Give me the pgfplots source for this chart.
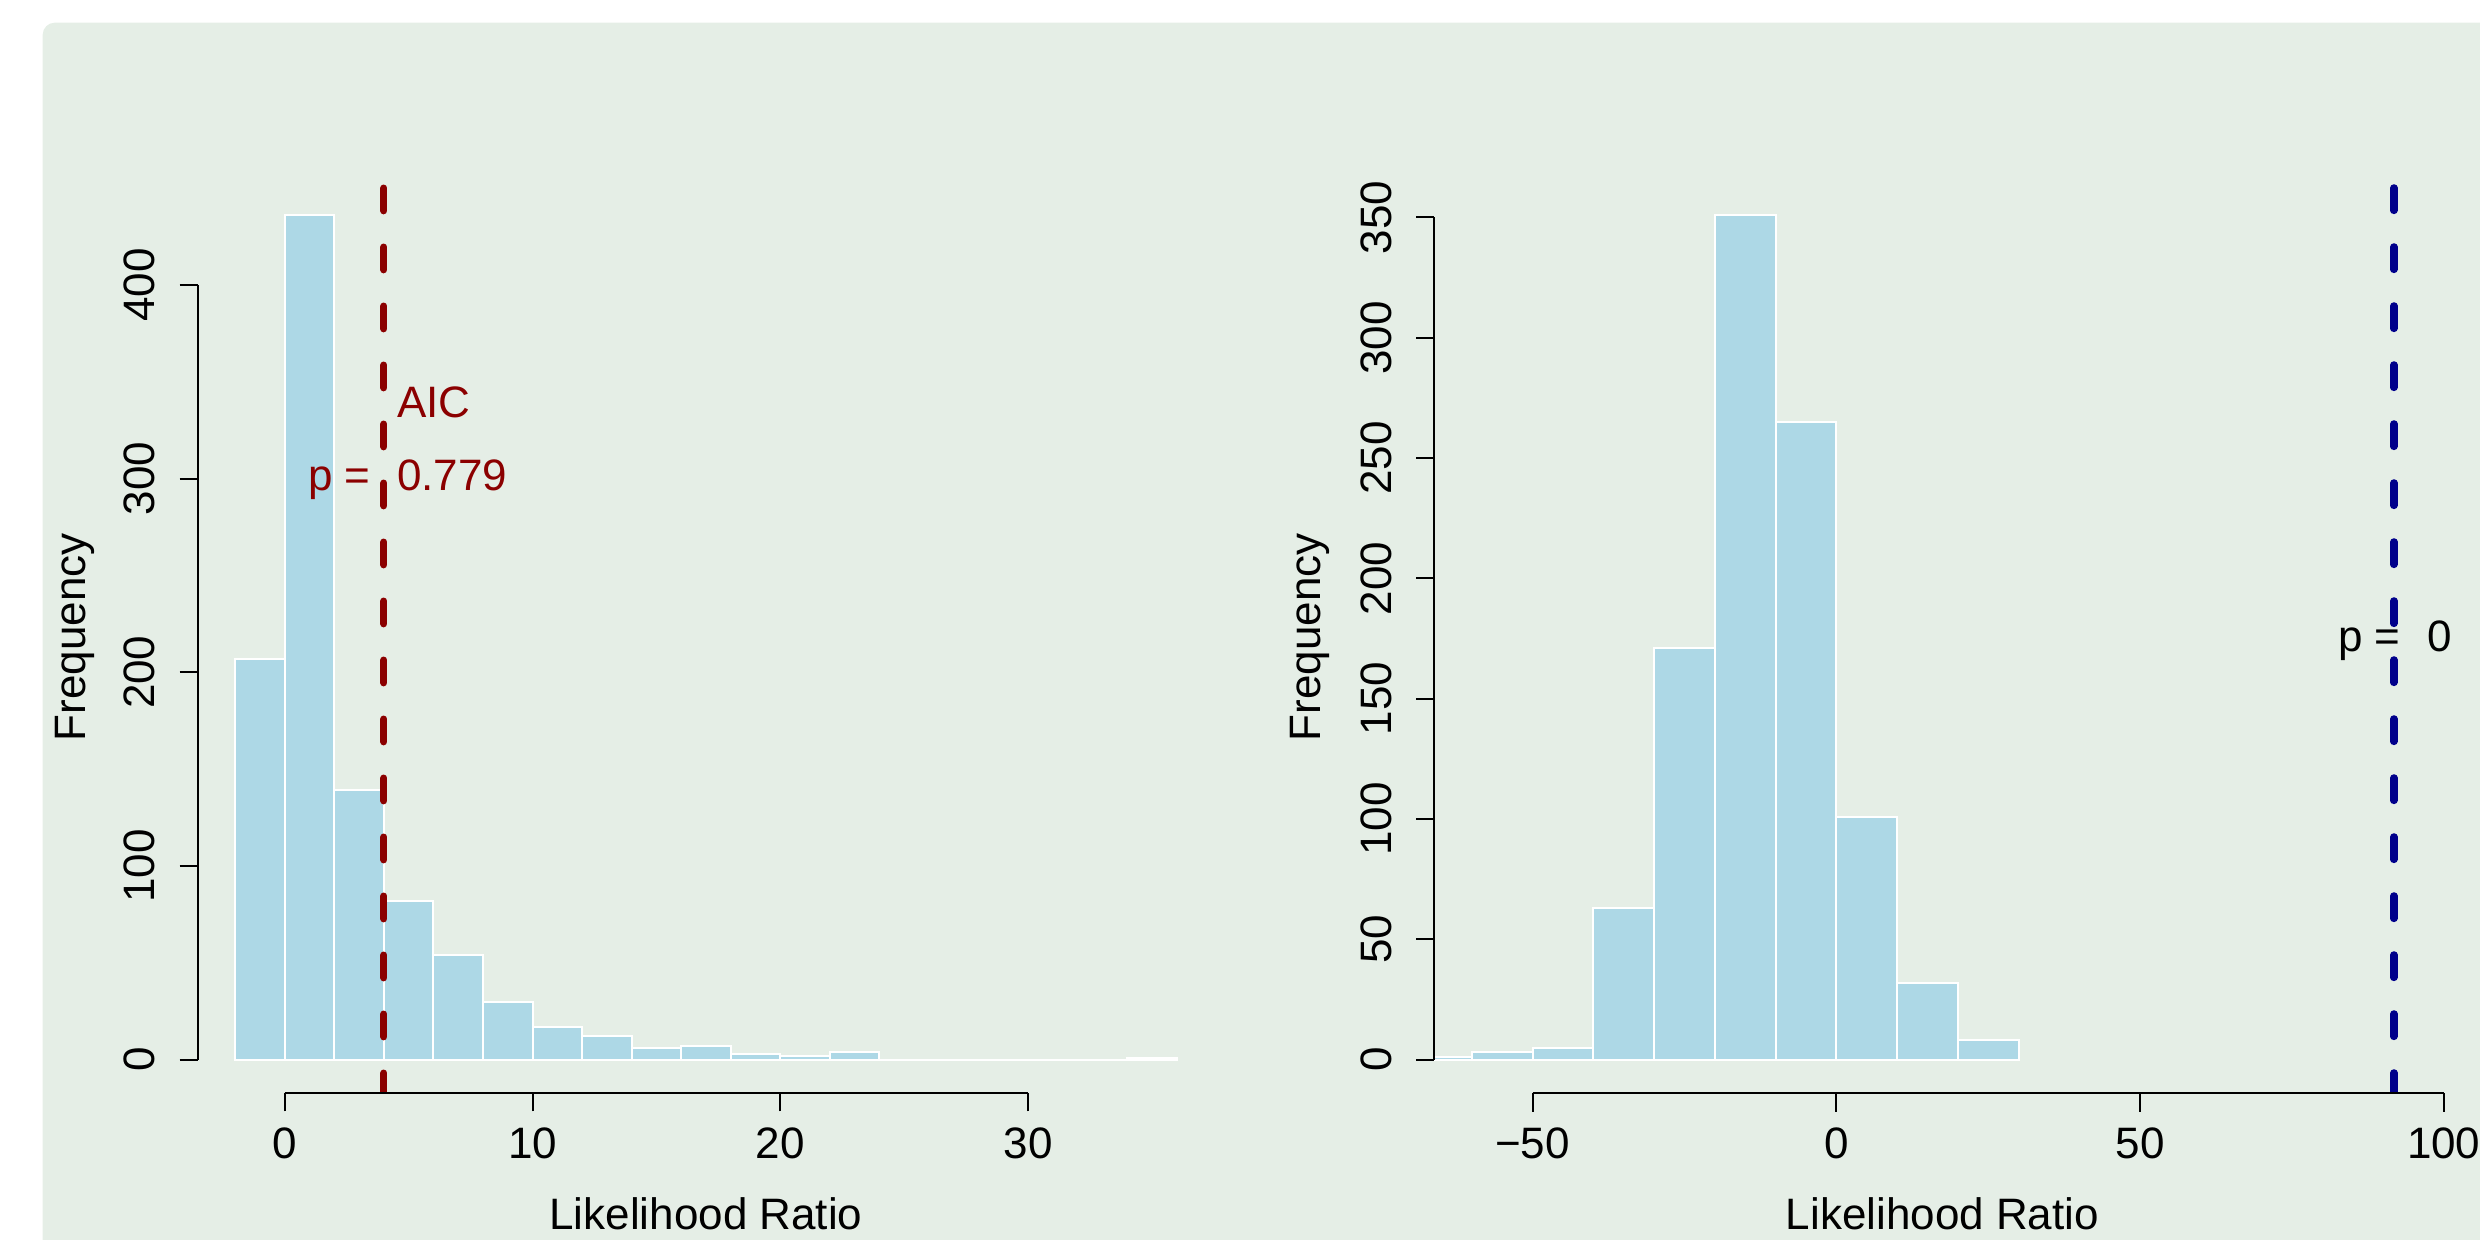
\documentclass[border=0pt]{standalone}
\usepackage{pgfplots}
\pgfplotsset{compat=1.18}
\usepackage{fontspec}
\setmainfont{Liberation Sans}
\definecolor{bg}{HTML}{E5EEE6}
\definecolor{barblue}{HTML}{ADD8E6}
\definecolor{dred}{HTML}{8B0000}
\definecolor{dblue}{HTML}{00008B}
\pgfplotsset{
  rhist/.style={
    scale only axis, width=254.225pt, height=228.05pt,
    axis x line*=bottom, axis y line*=left,
    axis line style={draw=none},
    tick align=outside, major tick length=4.5pt,
    every tick/.style={black, line width=0.5pt},
    minor tick num=0,
    clip mode=individual,
    xticklabel style={anchor=north, inner sep=0pt, font=\fontsize{11pt}{13pt}\selectfont},
    yticklabel style={rotate=90, anchor=south, inner sep=0pt, font=\fontsize{11pt}{13pt}\selectfont},
    xticklabel shift=3.875pt,
    yticklabel shift=5.85pt,
    xlabel={Likelihood Ratio}, ylabel={Frequency},
    xlabel style={at={(axis description cs:0.5,0)}, anchor=base, inner sep=0pt, yshift=-34pt, font=\fontsize{11pt}{13pt}\selectfont},
    ylabel style={anchor=base, inner sep=0pt, font=\fontsize{11pt}{13pt}\selectfont},
    /pgf/number format/assume math mode=true,
  }
}
\begin{document}
\begin{tikzpicture}[font=\fontsize{11pt}{13pt}\selectfont]
\path[use as bounding box] (0,0) rectangle (620pt,310pt);
\begin{scope}
\clip (0,0) rectangle (620pt,310pt);
\fill[bg, rounded corners=3pt] (10.675pt,-20pt) rectangle (640pt,304.325pt);
\end{scope}

% Left panel
\begin{axis}[rhist, at={(49.375pt,36.625pt)}, anchor=south west,
  xmin=-3.52, xmax=37.52, ymin=-17.44, ymax=453.44,
  xtick={0,10,20,30}, xticklabels={0,10,20,30},
  ytick={0,100,200,300,400}, yticklabels={0,100,200,300,400},
  ylabel style={at={([xshift=-28.05pt]axis description cs:0,0.5)}}]
\addplot[ybar interval, fill=barblue, draw=white, line width=0.5pt] coordinates {
(-2,207) (0,436) (2,139) (4,82) (6,54) (8,30) (10,17) (12,12) (14,6) (16,7)
(18,3) (20,2) (22,4) (24,0) (26,0) (28,0) (30,0) (32,0) (34,1) (36,1)};
\addplot[dred, line width=1.825pt, line cap=round, dash pattern=on 5.65pt off 9.1pt] coordinates {(4,449.9) (4,-17.44)};
\draw[line width=0.5pt] (axis cs:0,-17.44) -- (axis cs:30,-17.44);
\draw[line width=0.5pt] (axis cs:-3.52,0) -- (axis cs:-3.52,400);
\node[dred, anchor=base west, inner sep=0pt] at (axis cs:4.5,331.4) {AIC};
\node[dred, anchor=base west, inner sep=0pt] at (axis cs:4.5,293.6) {0.779};
\node[dred, anchor=base east, inner sep=0pt] at (axis cs:3.50,293.6) {p =};
\end{axis}

% Right panel
\begin{axis}[rhist, at={(358.5pt,36.625pt)}, anchor=south west,
  xmin=-66.23, xmax=101.19, ymin=-14.04, ymax=365.04,
  xtick={-50,0,50,100}, xticklabels={−50,0,50,100},
  ytick={0,50,100,150,200,250,300,350}, yticklabels={0,50,100,150,200,250,300,350},
  ylabel style={at={([xshift=-28.3pt]axis description cs:0,0.5)}}]
\addplot[ybar interval, fill=barblue, draw=white, line width=0.5pt] coordinates {
(-70,1) (-60,3) (-50,5) (-40,63) (-30,171) (-20,351) (-10,265) (0,101) (10,32) (20,8) (30,8)};
\addplot[dblue, line width=1.825pt, line cap=round, dash pattern=on 5.65pt off 9.1pt] coordinates {(91.8,362.3) (91.8,-14.04)};
\draw[line width=0.5pt] (axis cs:-50,-14.04) -- (axis cs:100,-14.04);
\draw[line width=0.5pt] (axis cs:-66.23,0) -- (axis cs:-66.23,350);
\node[anchor=base east, inner sep=0pt] at (axis cs:93.0,169.6) {p =};
\node[anchor=base west, inner sep=0pt] at (axis cs:97.17,169.6) {0};
\end{axis}
\end{tikzpicture}
\end{document}
